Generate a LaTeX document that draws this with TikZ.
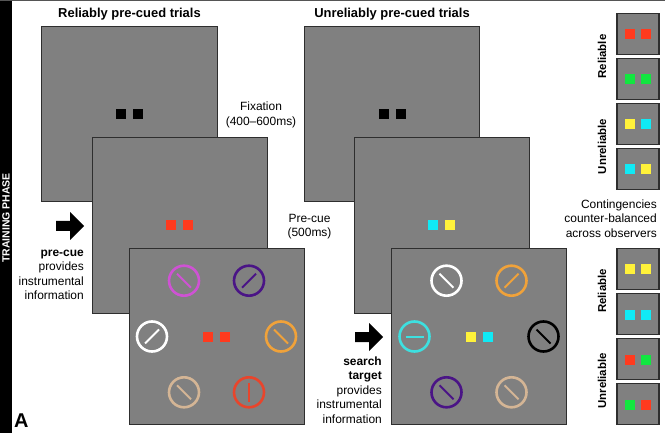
\documentclass[tikz,border=0pt]{standalone}
\usepackage{fontspec}
\setmainfont{Liberation Sans}
\definecolor{pgray}{HTML}{808080}
\definecolor{pborder}{HTML}{2E2E2E}
\definecolor{topline}{HTML}{555555}
\definecolor{cred}{HTML}{FF3A1E}
\definecolor{cgreen}{HTML}{12E640}
\definecolor{cyellow}{HTML}{FFF23A}
\definecolor{ccyan}{HTML}{10EAF5}
\definecolor{smagenta}{HTML}{CF52D4}
\definecolor{spurple}{HTML}{4A1486}
\definecolor{sorange}{HTML}{F0A23A}
\definecolor{stan}{HTML}{D4B595}
\definecolor{sred}{HTML}{E8452C}
\definecolor{scyan}{HTML}{3DE0E0}
\newcommand\stimulus[5]{\node[stim=#4] (#1) at (#2,#3) {};\draw[stimline=#4,shift={(#1.center)}] #5;}
\newcommand\cuepair[5]{\node[cue=#4] (#1a) at ({#2-8.5},#3) {};\node[cue=#5] (#1b) at ({#2+8.5},#3) {};}
\newcommand\legcue[5]{\node[cue=#4] (#1a) at ({#2-7.75},#3) {};\node[cue=#5] (#1b) at ({#2+7.75},#3) {};}
\def\BS{(-7,-7) -- (7,7)}
\def\FS{(-7,7) -- (7,-7)}
\def\VL{(0,-9.5) -- (0,9.5)}
\def\HL{(-9,0) -- (9,0)}
\begin{document}
\begin{tikzpicture}[x=1bp,y=-1bp,
  panel/.style={draw=pborder,fill=pgray,line width=1bp,minimum width=175bp,minimum height=175bp,inner sep=0,outer sep=0},
  cue/.style={fill=#1,minimum size=10bp,inner sep=0,outer sep=0},
  stim/.style={draw=#1,circle,line width=2.6bp,minimum size=30bp,inner sep=0,outer sep=0},
  stimline/.style={draw=#1,line width=2bp},
  lbox/.style={draw=pborder,fill=pgray,line width=1.3bp,minimum width=42bp,minimum height=41bp,inner sep=0,outer sep=0},
  body/.style={font=\fontsize{12}{14}\selectfont,inner sep=0},
  bodyb/.style={font=\fontsize{12}{14}\selectfont\bfseries,inner sep=0},
  title/.style={font=\fontsize{13}{15}\selectfont\bfseries,inner sep=0,anchor=base},
  vlab/.style={font=\fontsize{11.5}{13}\selectfont\bfseries,inner sep=0,rotate=90},
  blockarrow/.style={fill=black}]
\useasboundingbox (0,0) rectangle (665,433);
\fill[white] (0,0) rectangle (665,433);
% side bar and top line
\fill[black] (0,0) rectangle (12,433);
\draw[topline,line width=1.2bp] (0,0.6) -- (665,0.6);
\node[font=\fontsize{10.5}{12}\selectfont\bfseries,text=white,rotate=90,inner sep=0] (phase) at (6,218) {TRAINING PHASE};
% titles
\node[title] (t1) at (129.5,18) {Reliably pre-cued trials};
\node[title] (t2) at (392,18) {Unreliably pre-cued trials};
% left column panels
\node[panel] (p1) at (129.5,114.5) {};
\cuepair{c1}{129.5}{114.5}{black}{black}
\node[panel] (p2) at (179.5,225.5) {};
\cuepair{c2}{179.5}{225.5}{cred}{cred}
\node[panel] (p3) at (216.5,336.5) {};
\cuepair{c3}{216.5}{336.5}{cred}{cred}
\stimulus{s31}{184}{280.7}{smagenta}{\BS}
\stimulus{s32}{249}{280.7}{spurple}{\FS}
\stimulus{s33}{152}{336.5}{white}{\FS}
\stimulus{s34}{281}{336.5}{sorange}{\BS}
\stimulus{s35}{184}{392.3}{stan}{\BS}
\stimulus{s36}{249}{392.3}{sred}{\VL}
% right column panels
\node[panel] (p4) at (392,114.5) {};
\cuepair{c4}{392}{114.5}{black}{black}
\node[panel] (p5) at (441.5,225.5) {};
\cuepair{c5}{441.5}{225.5}{ccyan}{cyellow}
\node[panel] (p6) at (479,336.5) {};
\cuepair{c6}{479}{336.5}{cyellow}{ccyan}
\stimulus{s61}{446.5}{280.7}{white}{\BS}
\stimulus{s62}{511.5}{280.7}{sorange}{\FS}
\stimulus{s63}{414.5}{336.5}{scyan}{\HL}
\stimulus{s64}{543.5}{336.5}{black}{\BS}
\stimulus{s65}{446.5}{392.3}{spurple}{\BS}
\stimulus{s66}{511.5}{392.3}{stan}{\BS}
% timing labels
\node[body,anchor=base] (fix1) at (261,111) {Fixation};
\node[body,anchor=base] (fix2) at (261,125.5) {(400–600ms)};
\node[body,anchor=base] (pc1) at (309.5,222.5) {Pre-cue};
\node[body,anchor=base] (pc2) at (309.5,236.5) {(500ms)};
% left arrow and text
\fill[blockarrow] (56,221) -- (70,221) -- (70,212) -- (84,226) -- (70,240) -- (70,231) -- (56,231) -- cycle;
\node[bodyb,anchor=base east] (l1) at (84,256.5) {pre-cue};
\node[body,anchor=base east] (l2) at (84,270.8) {provides};
\node[body,anchor=base east] (l3) at (84,285.1) {instrumental};
\node[body,anchor=base east] (l4) at (84,299.4) {information};
% right arrow and text
\fill[blockarrow] (355,332) -- (369,332) -- (369,323) -- (383,337) -- (369,351) -- (369,342) -- (355,342) -- cycle;
\node[bodyb,anchor=base east] (r1) at (382,365) {search};
\node[bodyb,anchor=base east] (r2) at (382,379.5) {target};
\node[body,anchor=base east] (r3) at (382,394) {provides};
\node[body,anchor=base east] (r4) at (382,408.5) {instrumental};
\node[body,anchor=base east] (r5) at (382,423) {information};
% panel letter
\node[font=\fontsize{20}{22}\selectfont\bfseries,anchor=base west,inner sep=0] (lettera) at (14,427) {A};
% legend upper
\node[lbox] (b1) at (638,34) {};
\legcue{g1}{638}{34.5}{cred}{cred}
\node[lbox] (b2) at (638,79) {};
\legcue{g2}{638}{79.5}{cgreen}{cgreen}
\node[lbox] (b3) at (638,124) {};
\legcue{g3}{638}{124.5}{cyellow}{ccyan}
\node[lbox] (b4) at (638,169) {};
\legcue{g4}{638}{169.5}{ccyan}{cyellow}
\node[vlab] (v1) at (602,56.5) {Reliable};
\node[vlab] (v2) at (602,146.5) {Unreliable};
% contingencies
\node[body,anchor=base east] (k1) at (657,208.5) {Contingencies};
\node[body,anchor=base east] (k2) at (657,223) {counter-balanced};
\node[body,anchor=base east] (k3) at (657,237.5) {across observers};
% legend lower
\node[lbox] (b5) at (638,269) {};
\legcue{g5}{638}{269.5}{cyellow}{cyellow}
\node[lbox] (b6) at (638,314) {};
\legcue{g6}{638}{314.5}{ccyan}{ccyan}
\node[lbox] (b7) at (638,359) {};
\legcue{g7}{638}{359.5}{cred}{cgreen}
\node[lbox] (b8) at (638,404) {};
\legcue{g8}{638}{404.5}{cgreen}{cred}
\node[vlab] (v3) at (602,291) {Reliable};
\node[vlab] (v4) at (602,381) {Unreliable};
\end{tikzpicture}
\end{document}
